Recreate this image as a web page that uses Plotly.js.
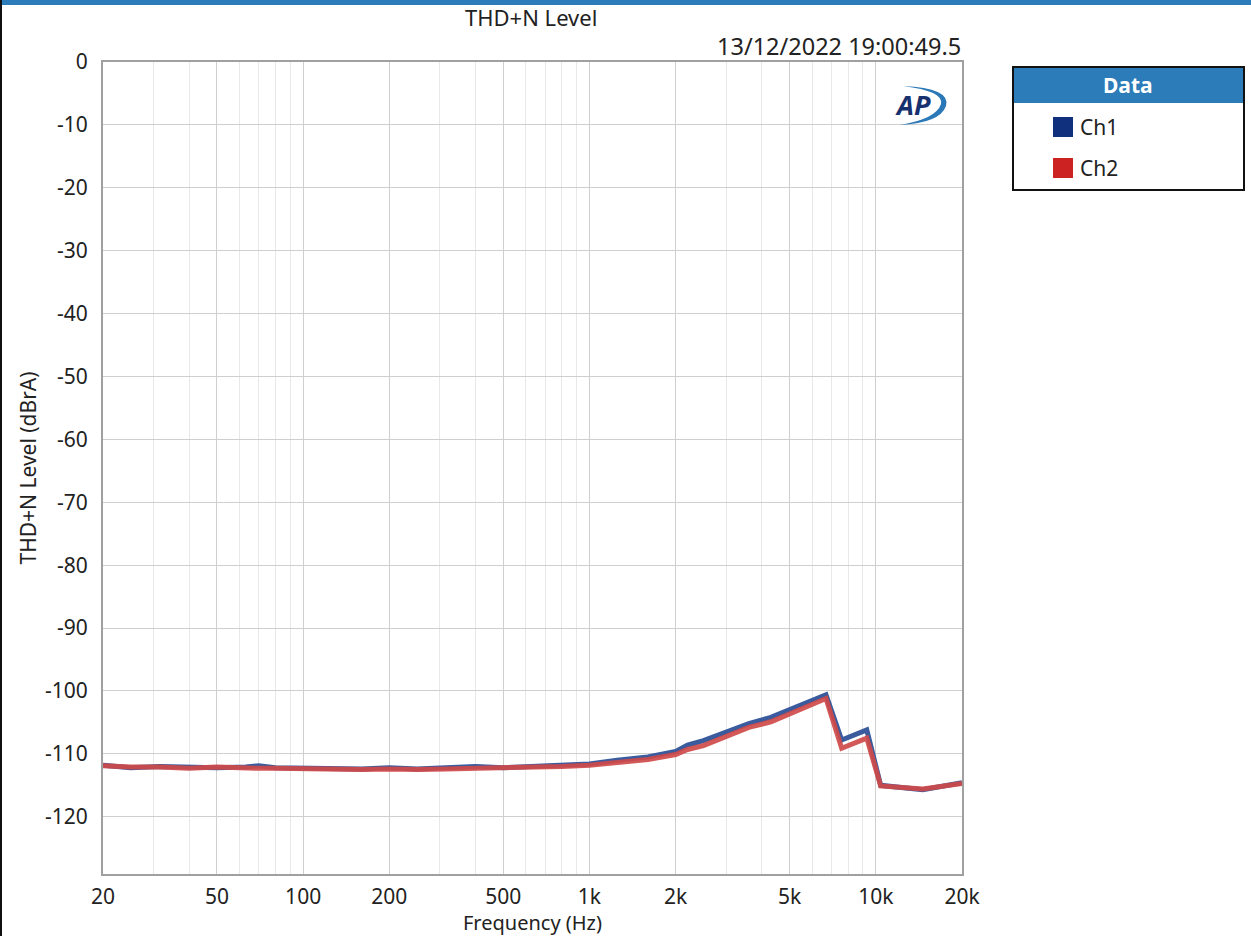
<!DOCTYPE html>
<html>
<head>
<meta charset="utf-8">
<script src="https://cdn.plot.ly/plotly-3.0.1.min.js"></script>
<style>
html,body{margin:0;padding:0;background:#fff;}
#chart{width:1251px;height:936px;}
</style>
</head>
<body>
<div id="chart"></div>
<script>
// ---- data ----
const freqHz = [20, 25, 31.5, 40, 50, 63, 70, 80, 100, 125, 160, 200, 250, 315, 400, 500, 630, 800, 1000, 1250, 1600, 2000, 2200, 2500, 3000, 3600, 4300, 5000, 6000, 6700, 7600, 9300, 10400, 14600, 20000];
const ch1 = [-111.8, -112.2, -112.0, -112.2, -112.2, -112.1, -111.9, -112.2, -112.3, -112.3, -112.4, -112.2, -112.4, -112.2, -112.0, -112.2, -112.0, -111.9, -111.6, -111.0, -110.5, -109.6, -108.6, -107.9, -106.6, -105.2, -104.2, -103.0, -101.5, -100.6, -107.8, -106.2, -115.0, -115.7, -114.6];
const ch2 = [-111.9, -112.1, -112.1, -112.3, -112.1, -112.3, -112.3, -112.3, -112.4, -112.4, -112.5, -112.4, -112.5, -112.4, -112.3, -112.3, -112.2, -112.0, -111.8, -111.3, -110.9, -110.1, -109.3, -108.7, -107.3, -105.8, -104.9, -103.7, -102.2, -101.2, -109.1, -107.5, -115.1, -115.6, -114.7];
const seriesNames = ['Ch1', 'Ch2'];
const majorTicks = [20, 50, 100, 200, 500, 1000, 2000, 5000, 10000, 20000];
const majorTickText = ['20', '50', '100', '200', '500', '1k', '2k', '5k', '10k', '20k'];
const minorTicks = [30, 40, 60, 70, 80, 90, 300, 400, 600, 700, 800, 900, 3000, 4000, 6000, 7000, 8000, 9000];
const yTicks = [0, -10, -20, -30, -40, -50, -60, -70, -80, -90, -100, -110, -120];
const yTickText = ['0', '-10', '-20', '-30', '-40', '-50', '-60', '-70', '-80', '-90', '-100', '-110', '-120'];
const chartTitle = 'THD+N Level';
const timeStamp = '13/12/2022 19:00:49.5';
const xTitle = 'Frequency (Hz)';
const yTitle = 'THD+N Level (dBrA)';
const legendTitle = 'Data';

// ---- layout helpers (pixel -> paper) ----
const W = 1251, H = 936;
const L = 103, R = 962, T = 62, B = 874;
const px = x => (x - L) / (R - L);
const py = y => (B - y) / (B - T);
const FONT = '"Noto Sans", "Open Sans", sans-serif';
const FS = 21;

const traces = [
  {x: freqHz, y: ch1, name: seriesNames[0], mode: 'lines', line: {color: '#3a5b9e', width: 5}},
  {x: freqHz, y: ch2, name: seriesNames[1], mode: 'lines', line: {color: '#cf4a4a', width: 5}, opacity: 0.92}
];

// arc of logo
const arcPath = (() => {
  let d = 'M ' + px(903) + ' ' + py(86);
  d += ' Q ' + px(951) + ' ' + py(88) + ' ' + px(946) + ' ' + py(106);
  d += ' Q ' + px(940) + ' ' + py(123) + ' ' + px(900) + ' ' + py(125);
  d += ' Q ' + px(936) + ' ' + py(119) + ' ' + px(941) + ' ' + py(104);
  d += ' Q ' + px(944) + ' ' + py(91) + ' ' + px(903) + ' ' + py(86) + ' Z';
  return d;
})();

const layout = {
  width: W, height: H,
  margin: {l: L, r: W - R, t: T, b: H - B, pad: 0},
  paper_bgcolor: '#ffffff',
  plot_bgcolor: '#ffffff',
  showlegend: false,
  font: {family: FONT, size: FS, color: '#222'},
  xaxis: {
    type: 'log',
    range: [Math.log10(20), Math.log10(20000)],
    tickmode: 'array', tickvals: majorTicks, ticktext: majorTickText,
    showgrid: true, gridcolor: '#cfcfcf', gridwidth: 1,
    minor: {tickmode: 'array', tickvals: minorTicks, showgrid: true, gridcolor: '#e8e8e8', gridwidth: 1, ticks: ''},
    showline: true, linecolor: '#a0a0a0', linewidth: 2, mirror: true,
    ticks: '', ticklabelstandoff: 3,
    tickfont: {family: FONT, size: FS, color: '#222'},
    zeroline: false,
    title: {text: xTitle, font: {family: FONT, size: 20, color: '#222'}, standoff: 4}
  },
  yaxis: {
    range: [-129.1, 0],
    tickmode: 'array', tickvals: yTicks, ticktext: yTickText,
    showgrid: true, gridcolor: '#cfcfcf', gridwidth: 1,
    showline: true, linecolor: '#a0a0a0', linewidth: 2, mirror: true,
    ticks: '', ticklabelstandoff: 9,
    tickfont: {family: FONT, size: FS, color: '#222'},
    zeroline: false,
    title: {text: yTitle, font: {family: FONT, size: FS, color: '#222'}, standoff: 3}
  },
  shapes: [
    {type: 'rect', xref: 'paper', yref: 'paper', x0: px(0), x1: px(W), y0: py(0), y1: py(5), fillcolor: '#2b7cb8', line: {width: 0}, layer: 'above'},
    {type: 'rect', xref: 'paper', yref: 'paper', x0: px(0), x1: px(2), y0: py(0), y1: py(H), fillcolor: '#111', line: {width: 0}},
    {type: 'rect', xref: 'paper', yref: 'paper', x0: px(1013), x1: px(1244), y0: py(67), y1: py(190), fillcolor: '#ffffff', line: {color: '#111', width: 2}},
    {type: 'rect', xref: 'paper', yref: 'paper', x0: px(1014), x1: px(1243), y0: py(68), y1: py(103), fillcolor: '#2b7cb8', line: {width: 0}},
    {type: 'rect', xref: 'paper', yref: 'paper', x0: px(1053), x1: px(1073), y0: py(117), y1: py(137), fillcolor: '#10307e', line: {width: 0}},
    {type: 'rect', xref: 'paper', yref: 'paper', x0: px(1053), x1: px(1073), y0: py(158), y1: py(178), fillcolor: '#cc2222', line: {width: 0}},
    {type: 'path', xref: 'paper', yref: 'paper', path: arcPath, fillcolor: '#2a78b8', line: {width: 0}}
  ],
  annotations: [
    {xref: 'paper', yref: 'paper', x: px(531), y: py(17), text: chartTitle, showarrow: false, xanchor: 'center', yanchor: 'middle', font: {family: FONT, size: 22, color: '#222'}},
    {xref: 'paper', yref: 'paper', x: px(963), y: py(46), text: timeStamp, showarrow: false, xanchor: 'right', yanchor: 'middle', font: {family: FONT, size: 23.5, color: '#222'}},
    {xref: 'paper', yref: 'paper', x: px(1128), y: py(85), text: '<b>' + legendTitle + '</b>', showarrow: false, xanchor: 'center', yanchor: 'middle', font: {family: FONT, size: FS, color: '#ffffff'}},
    {xref: 'paper', yref: 'paper', x: px(1078), y: py(127), text: seriesNames[0], showarrow: false, xanchor: 'left', yanchor: 'middle', font: {family: FONT, size: FS, color: '#222'}},
    {xref: 'paper', yref: 'paper', x: px(1078), y: py(168), text: seriesNames[1], showarrow: false, xanchor: 'left', yanchor: 'middle', font: {family: FONT, size: FS, color: '#222'}},
    {xref: 'paper', yref: 'paper', x: px(913), y: py(104), text: '<b><i>AP</i></b>', showarrow: false, xanchor: 'center', yanchor: 'middle', font: {family: FONT, size: 27, color: '#17306e'}}
  ]
};

Plotly.newPlot('chart', traces, layout, {displayModeBar: false, staticPlot: true});
</script>
</body>
</html>
